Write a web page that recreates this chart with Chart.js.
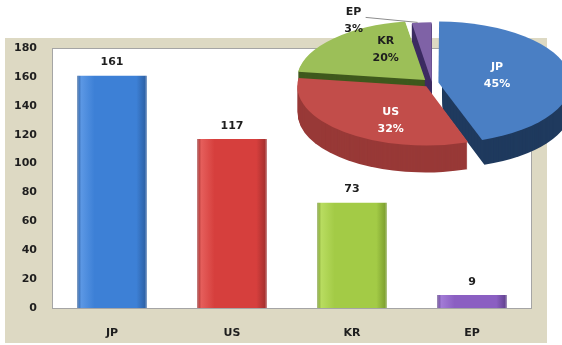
<!DOCTYPE html>
<html>
<head>
<meta charset="utf-8">
<script src="https://cdn.jsdelivr.net/npm/chart.js@4.4.0/dist/chart.umd.min.js"></script>
<style>
  body { margin: 0; width: 562px; height: 345px; overflow: hidden; position: relative; background: #fff; }
  #barBox { position: absolute; left: 0; top: 0; width: 562px; height: 345px; }
  #pieBox { position: absolute; left: 291px; top: 0; width: 282px; height: 200px; }
</style>
</head>
<body>
<div id="barBox"><canvas id="barChart"></canvas></div>
<div id="pieBox"><canvas id="pieChart"></canvas></div>
<script>
// data
const categories = ['JP', 'US', 'KR', 'EP'];
const counts = [161, 117, 73, 9];
const shares = ['45%', '32%', '20%', '3%'];
const yMax = 180;
const yStep = 20;

// colours
const barMain = ['#3d80d6', '#d63f3d', '#a3cb46', '#8b5fc2'];
const barLight = ['#5b97e4', '#e55e5b', '#b8dc60', '#a27bd6'];
const barDark = ['#2b5d9f', '#9e2d2c', '#789a2c', '#5e3f8a'];
const pieTop = ['#4a7fc4', '#c24d4a', '#9cbf58', '#7f62a6'];
const pieSide = ['#1f3a5e', '#983937', '#3f591d', '#3d2c62'];
const pieOffset = [26, 36, 38, 9];

const FONT = 'DejaVu Sans';
const TEXT = '#1e1e1e';

// beige panel + white plot area with a thin frame
const panelPlugin = {
    id: 'panel',
    beforeDraw(chart) {
        const { ctx, chartArea: a } = chart;
        ctx.save();
        ctx.fillStyle = '#ddd9c3';
        ctx.fillRect(5, 38, 542, 305);
        ctx.fillStyle = '#ffffff';
        ctx.fillRect(a.left, a.top, a.right - a.left, a.bottom - a.top);
        ctx.strokeStyle = '#a5a5a5';
        ctx.lineWidth = 1;
        ctx.strokeRect(a.left + 0.5, a.top + 0.5, a.right - a.left - 1, a.bottom - a.top);
        ctx.restore();
    }
};

// numbers above the bars
const valuePlugin = {
    id: 'values',
    afterDatasetsDraw(chart) {
        const ctx = chart.ctx;
        const meta = chart.getDatasetMeta(0);
        ctx.save();
        ctx.font = 'bold 11px "' + FONT + '"';
        ctx.fillStyle = TEXT;
        ctx.textAlign = 'center';
        ctx.textBaseline = 'middle';
        meta.data.forEach((bar, i) => {
            ctx.fillText(String(counts[i]), bar.x, bar.y - 13);
        });
        ctx.restore();
    }
};

function barFill(c) {
    const chart = c.chart;
    const i = c.dataIndex;
    const xs = chart.scales.x;
    if (!xs || !(xs.width > 0)) return barMain[i];
    const cx = xs.getPixelForValue(i);
    const half = xs.width / categories.length * 0.58 / 2;
    if (!isFinite(cx) || !isFinite(half)) return barMain[i];
    const g = chart.ctx.createLinearGradient(cx - half, 0, cx + half, 0);
    g.addColorStop(0, barDark[i]);
    g.addColorStop(0.06, barLight[i]);
    g.addColorStop(0.25, barMain[i]);
    g.addColorStop(0.85, barMain[i]);
    g.addColorStop(1, barDark[i]);
    return g;
}

new Chart(document.getElementById('barChart'), {
    type: 'bar',
    data: {
        labels: categories,
        datasets: [{
            data: counts,
            backgroundColor: barFill,
            borderColor: barDark,
            borderWidth: { top: 0, left: 1, right: 1, bottom: 0 },
            barPercentage: 0.58,
            categoryPercentage: 1
        }]
    },
    options: {
        responsive: true,
        maintainAspectRatio: false,
        animation: false,
        events: [],
        layout: { padding: { left: 5, right: 30, top: 48, bottom: 2 } },
        plugins: { legend: { display: false }, tooltip: { enabled: false } },
        scales: {
            x: {
                grid: { display: false, drawTicks: false },
                border: { display: false },
                ticks: { padding: 19, color: TEXT, font: { family: FONT, size: 11, weight: 'bold' } },
                afterFit(s) { s.height = 35; }
            },
            y: {
                min: 0,
                max: yMax,
                grid: { display: false, drawTicks: false },
                border: { display: false },
                ticks: { stepSize: yStep, padding: 15, color: TEXT, font: { family: FONT, size: 11, weight: 'bold' } },
                afterFit(s) { s.width = 47; }
            }
        }
    },
    plugins: [panelPlugin, valuePlugin]
});

// 3D look for the pie: squash vertically and stack darker layers under the top faces
const SY = 0.46;
const DEPTH = 27;

function arcShift(arc) {
    const off = (arc.options.offset || 0) / 4;
    const half = (arc.startAngle + arc.endAngle) / 2;
    const circ = arc.endAngle - arc.startAngle;
    const fix = 1 - Math.sin(Math.min(Math.PI, circ));
    const t = off * (1 + fix);
    return { x: Math.cos(half) * t, y: Math.sin(half) * t, half: half };
}

const pie3dPlugin = {
    id: 'pie3d',
    beforeDatasetsDraw(chart) {
        const ctx = chart.ctx;
        const arcs = chart.getDatasetMeta(0).data;
        const cx = arcs[0].x, cy = arcs[0].y;
        ctx.save();
        ctx.translate(cx, cy);
        ctx.scale(1, SY);
        ctx.translate(-cx, -cy);
        for (let d = DEPTH; d >= 1; d--) {
            arcs.forEach((arc, i) => {
                const s = arcShift(arc);
                const x = arc.x + s.x, y = arc.y + s.y + d / SY;
                ctx.beginPath();
                ctx.moveTo(x, y);
                ctx.arc(x, y, arc.outerRadius, arc.startAngle, arc.endAngle);
                ctx.closePath();
                ctx.fillStyle = pieSide[i];
                ctx.fill();
            });
        }
    },
    afterDatasetsDraw(chart) {
        chart.ctx.restore();
    },
    afterDraw(chart) {
        const ctx = chart.ctx;
        const arcs = chart.getDatasetMeta(0).data;
        ctx.save();
        ctx.font = 'bold 11px "' + FONT + '"';
        ctx.textAlign = 'center';
        ctx.textBaseline = 'middle';
        arcs.forEach((arc, i) => {
            const s = arcShift(arc);
            const vx = arc.x + s.x, vy = arc.y + s.y * SY;
            const r = arc.outerRadius;
            const circ = arc.endAngle - arc.startAngle;
            if (circ < 0.3) {
                // thin slice: label outside with a leader line
                const ax = vx + Math.cos(s.half) * r;
                const ay = vy + Math.sin(s.half) * r * SY;
                const lx = ax - 68, ly = ay - 2;
                ctx.strokeStyle = '#8c8c8c';
                ctx.lineWidth = 1;
                ctx.beginPath();
                ctx.moveTo(lx + 12, ly - 3);
                ctx.lineTo(ax - 4, ay);
                ctx.stroke();
                ctx.fillStyle = TEXT;
                ctx.fillText(categories[i], lx, ly - 8);
                ctx.fillText(shares[i], lx, ly + 9);
                return;
            }
            const f = 0.43;
            const px = vx + Math.cos(s.half) * r * f;
            const py = vy + Math.sin(s.half) * r * f * 0.8;
            ctx.fillStyle = i < 2 ? '#ffffff' : TEXT;
            ctx.fillText(categories[i], px, py - 8);
            ctx.fillText(shares[i], px, py + 9);
        });
        ctx.restore();
    }
};

new Chart(document.getElementById('pieChart'), {
    type: 'pie',
    data: {
        labels: categories,
        datasets: [{
            data: counts,
            backgroundColor: pieTop,
            offset: pieOffset,
            borderWidth: 0,
            clip: false
        }]
    },
    options: {
        responsive: true,
        maintainAspectRatio: false,
        animation: false,
        events: [],
        radius: 128,
        layout: { padding: { bottom: 34 } },
        plugins: { legend: { display: false }, tooltip: { enabled: false } }
    },
    plugins: [pie3dPlugin]
});
</script>
</body>
</html>
